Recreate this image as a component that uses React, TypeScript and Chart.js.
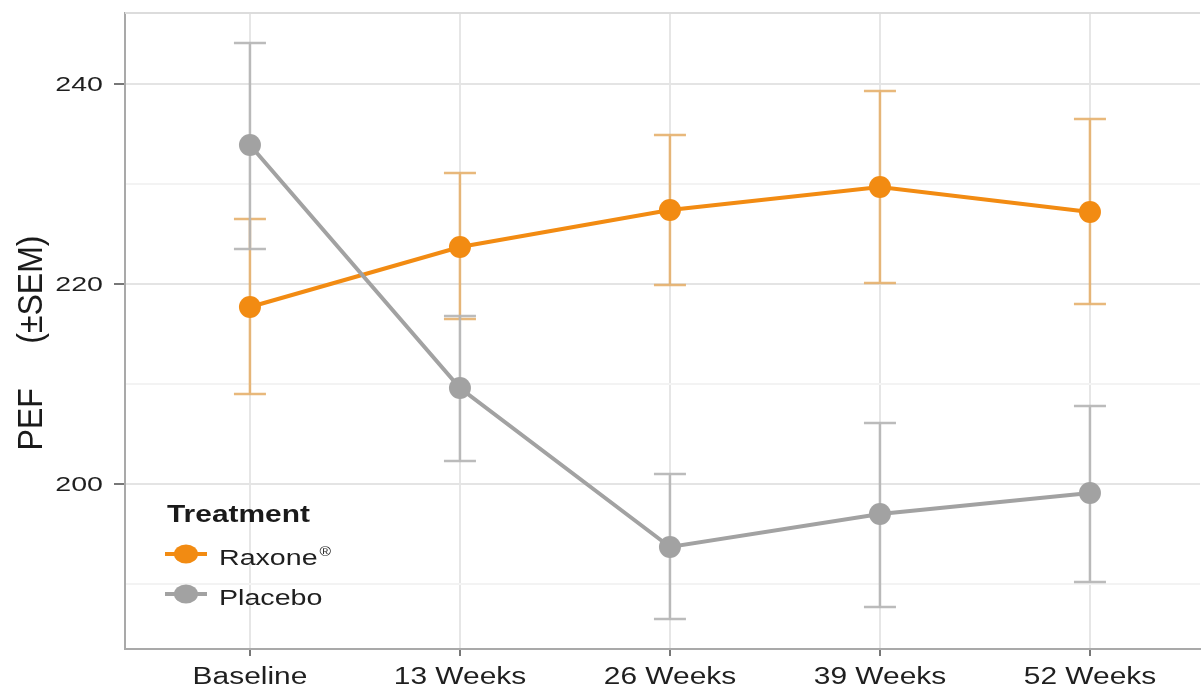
import React, { useEffect, useRef } from "react";
import { Chart, registerables } from "chart.js";

Chart.register(...registerables);

// Visit labels along the x axis
const categories = ["Baseline", "13 Weeks", "26 Weeks", "39 Weeks", "52 Weeks"];

// Raxone® group: mean PEF and the ±SEM bounds
const raxoneMean = [217.7, 223.7, 227.4, 229.7, 227.2];
const raxoneLower = [209.0, 216.5, 219.9, 220.1, 218.0];
const raxoneUpper = [226.5, 231.1, 234.9, 239.3, 236.5];

// Placebo group: mean PEF and the ±SEM bounds
const placeboMean = [233.9, 209.6, 193.7, 197.0, 199.1];
const placeboLower = [223.5, 202.3, 186.5, 187.7, 190.2];
const placeboUpper = [244.1, 216.8, 201.0, 206.1, 207.8];

// Labelled y ticks and the lighter in-between grid lines
const yTickValues = [200, 220, 240];
const yMinorValues = [190, 210, 230];

const legendTitle = "Treatment";
const seriesNames = ["Raxone", "Placebo"];
const yAxisTitle = "PEF     (\u00B1SEM)";

const ORANGE = "#f28b12";
const ORANGE_BAR = "rgba(228, 172, 100, 0.85)";
const GREY = "#a2a2a2";
const GREY_BAR = "rgba(180, 180, 180, 0.9)";
const FONT = "'Liberation Sans', Arial, Helvetica, sans-serif";

// Draws text with a horizontal stretch, anchored by align at (x, baseline y)
function wideText(
  ctx: CanvasRenderingContext2D,
  text: string,
  x: number,
  y: number,
  font: string,
  color: string,
  align: "left" | "center" | "right",
  sx: number
) {
  ctx.save();
  ctx.font = font;
  ctx.fillStyle = color;
  ctx.textBaseline = "alphabetic";
  ctx.textAlign = "left";
  const w = ctx.measureText(text).width * sx;
  const left = align === "center" ? x - w / 2 : align === "right" ? x - w : x;
  ctx.translate(left, y);
  ctx.scale(sx, 1);
  ctx.fillText(text, 0, 0);
  ctx.restore();
  return w;
}

const errorBarPlugin = {
  id: "semBars",
  beforeDatasetsDraw(chart: any) {
    const { ctx } = chart;
    const xs = chart.scales.x;
    const ys = chart.scales.y;
    const groups = [
      { lo: raxoneLower, hi: raxoneUpper, color: ORANGE_BAR },
      { lo: placeboLower, hi: placeboUpper, color: GREY_BAR },
    ];
    const capHalf = 16;
    ctx.save();
    ctx.lineWidth = 2.5;
    ctx.lineCap = "butt";
    groups.forEach((g) => {
      ctx.strokeStyle = g.color;
      g.lo.forEach((lo, i) => {
        const px = xs.getPixelForValue(i);
        const yLo = ys.getPixelForValue(lo);
        const yHi = ys.getPixelForValue(g.hi[i]);
        ctx.beginPath();
        ctx.moveTo(px, yLo);
        ctx.lineTo(px, yHi);
        ctx.moveTo(px - capHalf, yLo);
        ctx.lineTo(px + capHalf, yLo);
        ctx.moveTo(px - capHalf, yHi);
        ctx.lineTo(px + capHalf, yHi);
        ctx.stroke();
      });
    });
    ctx.restore();
  },
};

const textPlugin = {
  id: "axisText",
  afterDraw(chart: any) {
    const { ctx, chartArea } = chart;
    const xs = chart.scales.x;
    const ys = chart.scales.y;

    // top edge of the panel
    ctx.save();
    ctx.strokeStyle = "#dcdcdc";
    ctx.lineWidth = 2;
    ctx.beginPath();
    ctx.moveTo(chartArea.left, chartArea.top);
    ctx.lineTo(chartArea.right, chartArea.top);
    ctx.stroke();
    ctx.restore();

    // y tick labels
    yTickValues.forEach((v) => {
      wideText(ctx, String(v), chartArea.left - 22, ys.getPixelForValue(v) + 6.5, `21px ${FONT}`, "#1f1f1f", "right", 1.36);
    });

    // x tick labels
    categories.forEach((c, i) => {
      wideText(ctx, c, xs.getPixelForValue(i), 684, `23px ${FONT}`, "#1f1f1f", "center", 1.3);
    });

    // y axis title
    ctx.save();
    ctx.translate(42, 343);
    ctx.scale(1.12, 1);
    ctx.rotate(-Math.PI / 2);
    ctx.font = `32px ${FONT}`;
    ctx.fillStyle = "#1a1a1a";
    ctx.textAlign = "center";
    ctx.textBaseline = "alphabetic";
    ctx.fillText(yAxisTitle, 0, 0);
    ctx.restore();

    // legend
    const lx = chartArea.left + 42;
    wideText(ctx, legendTitle, lx, 522, `bold 23px ${FONT}`, "#1a1a1a", "left", 1.3);
    const entries = [
      { name: seriesNames[0], color: ORANGE, base: 565, sup: "\u00AE" },
      { name: seriesNames[1], color: GREY, base: 605, sup: "" },
    ];
    entries.forEach((e) => {
      const cy = e.base - 11;
      ctx.save();
      ctx.strokeStyle = e.color;
      ctx.lineWidth = 4;
      ctx.beginPath();
      ctx.moveTo(lx - 2, cy);
      ctx.lineTo(lx + 40, cy);
      ctx.stroke();
      ctx.fillStyle = e.color;
      ctx.beginPath();
      ctx.ellipse(lx + 19, cy, 12, 9.5, 0, 0, Math.PI * 2);
      ctx.fill();
      ctx.restore();
      const w = wideText(ctx, e.name, lx + 52, e.base, `22px ${FONT}`, "#1f1f1f", "left", 1.3);
      if (e.sup) {
        wideText(ctx, e.sup, lx + 54 + w, e.base - 9, `13px ${FONT}`, "#1f1f1f", "left", 1.2);
      }
    });
  },
};

export default function App() {
  const canvasRef = useRef<HTMLCanvasElement | null>(null);

  useEffect(() => {
    if (!canvasRef.current) return;
    const isMajor = (v: number) => yTickValues.includes(v);
    const chart = new Chart(canvasRef.current, {
      type: "line",
      data: {
        datasets: [
          {
            label: seriesNames[0],
            data: raxoneMean.map((y, i) => ({ x: i, y })),
            borderColor: ORANGE,
            backgroundColor: ORANGE,
            borderWidth: 4,
            pointRadius: 11,
            pointBorderWidth: 0,
            pointBackgroundColor: ORANGE,
            order: 2,
          },
          {
            label: seriesNames[1],
            data: placeboMean.map((y, i) => ({ x: i, y })),
            borderColor: GREY,
            backgroundColor: GREY,
            borderWidth: 4,
            pointRadius: 11,
            pointBorderWidth: 0,
            pointBackgroundColor: GREY,
            order: 1,
          },
        ],
      },
      options: {
        responsive: false,
        animation: false,
        layout: { autoPadding: false, padding: { top: 13, right: 2, left: 0, bottom: 0 } },
        plugins: {
          legend: { display: false },
          tooltip: { enabled: false },
        },
        scales: {
          x: {
            type: "linear",
            min: -0.595,
            max: 4.524,
            afterBuildTicks: (scale: any) => {
              scale.ticks = categories.map((_, i) => ({ value: i }));
            },
            afterFit: (scale: any) => {
              scale.height = 40;
              scale.paddingLeft = 0;
              scale.paddingRight = 0;
            },
            ticks: { display: false },
            grid: {
              color: "#e6e6e6",
              lineWidth: 2,
              drawTicks: true,
              tickLength: 7,
              tickColor: "#777",
              tickWidth: 2,
            },
            border: { display: true, color: "#a9a9a9", width: 2 },
          },
          y: {
            type: "linear",
            min: 183.5,
            max: 247.1,
            afterBuildTicks: (scale: any) => {
              scale.ticks = [...yMinorValues, ...yTickValues]
                .sort((a, b) => a - b)
                .map((v) => ({ value: v }));
            },
            afterFit: (scale: any) => {
              scale.width = 125;
              scale.paddingTop = 0;
              scale.paddingBottom = 0;
            },
            ticks: { display: false },
            grid: {
              color: (c: any) => (c.tick && isMajor(c.tick.value) ? "#e4e4e4" : "#f3f3f3"),
              lineWidth: 2,
              drawTicks: true,
              tickLength: 11,
              tickColor: (c: any) => (c.tick && isMajor(c.tick.value) ? "#777" : "rgba(0,0,0,0)"),
              tickWidth: 2,
            },
            border: { display: true, color: "#a9a9a9", width: 2 },
          },
        },
      },
      plugins: [errorBarPlugin, textPlugin],
    });
    return () => chart.destroy();
  }, []);

  return (
    <div style={{ position: "absolute", left: 0, top: 0, width: 1202, height: 689, background: "#fff" }}>
      <canvas ref={canvasRef} width={1202} height={689} />
    </div>
  );
}
